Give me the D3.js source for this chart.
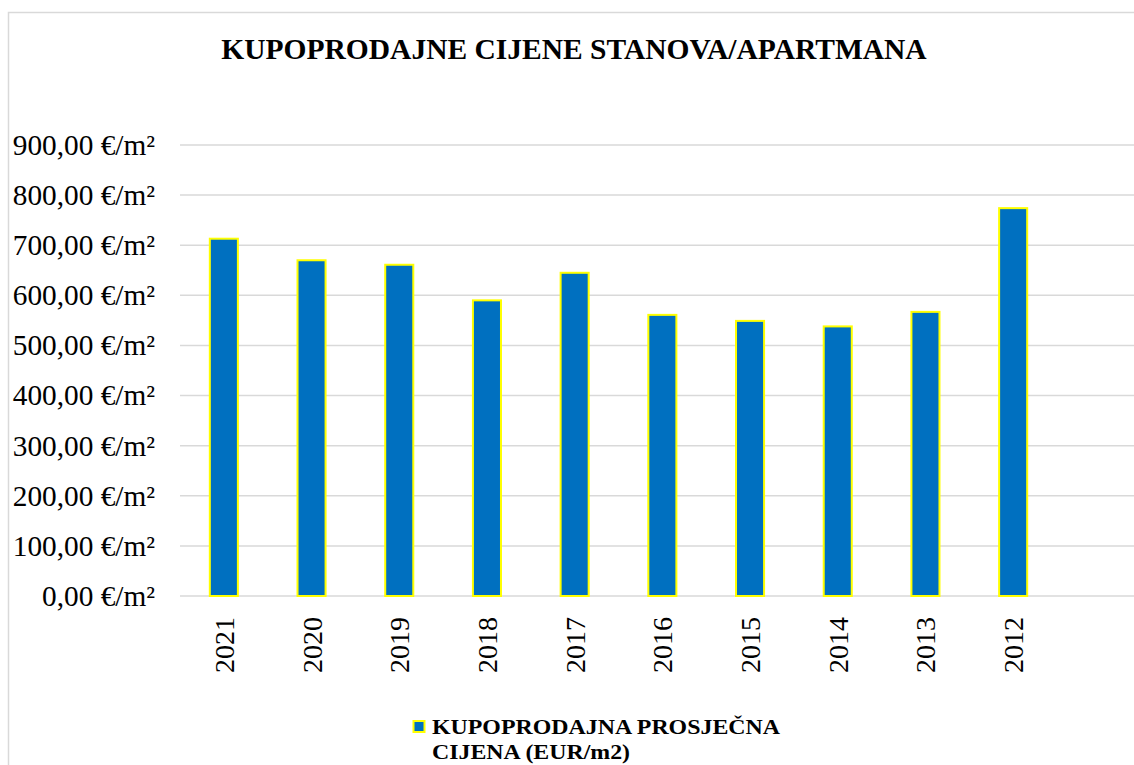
<!DOCTYPE html>
<html>
<head>
<meta charset="utf-8">
<script src="https://cdn.jsdelivr.net/npm/d3@7"></script>
<style>
  html, body { margin: 0; padding: 0; background: #fff; }
  svg { display: block; }
</style>
</head>
<body>
<svg id="chart" width="1134" height="765"></svg>
<script>
const title = "KUPOPRODAJNE CIJENE STANOVA/APARTMANA";
const categories = ["2021", "2020", "2019", "2018", "2017", "2016", "2015", "2014", "2013", "2012"];
const values = [713, 670, 661, 590, 645, 561, 549, 538, 567, 774];
const yTicks = [0, 100, 200, 300, 400, 500, 600, 700, 800, 900];
const legendLines = ["KUPOPRODAJNA PROSJEČNA", "CIJENA (EUR/m2)"];
const legendWidths = [348, 198];

const SERIF = "'Liberation Serif', 'DejaVu Serif', serif";
const svg = d3.select("#chart");
const W = 1134, H = 765;
const plot = { left: 180, right: 1057, top: 145, bottom: 596, gridRight: 1134 };

// chart border (partially visible: left and top)
svg.append("path")
  .attr("d", `M8.5,${H} L8.5,12.5 L${W},12.5`)
  .attr("fill", "none").attr("stroke", "#d9d9d9").attr("stroke-width", 1.5);

// title
svg.append("text")
  .attr("x", 574).attr("y", 59)
  .attr("text-anchor", "middle")
  .style("font-family", SERIF)
  .style("font-weight", "700").style("font-size", "29.5px")
  .text(title);

const x = d3.scaleBand().domain(categories)
  .range([plot.left, plot.right]).paddingInner(0.68).paddingOuter(0.34);
const y = d3.scaleLinear().domain([0, 900]).range([plot.bottom, plot.top]);

// gridlines
svg.append("g").selectAll("line").data(yTicks).join("line")
  .attr("x1", plot.left).attr("x2", plot.gridRight)
  .attr("y1", d => y(d)).attr("y2", d => y(d))
  .attr("stroke", "#d9d9d9").attr("stroke-width", 1.5);

// y axis labels
const fmt = v => d3.format(".2f")(v).replace(".", ",") + " €/m²";
const yAxis = d3.axisLeft(y).tickValues(yTicks).tickFormat(fmt).tickSize(0).tickPadding(25);
const gy = svg.append("g").attr("transform", `translate(${plot.left},0)`).call(yAxis);
gy.select(".domain").remove();
gy.selectAll("text").attr("fill", "#000")
  .style("font-size", "29.3px").style("font-family", SERIF);

// bars
svg.append("g").selectAll("rect").data(categories).join("rect")
  .attr("x", d => x(d))
  .attr("width", x.bandwidth())
  .attr("y", (d, i) => y(values[i]))
  .attr("height", (d, i) => y(0) - y(values[i]))
  .attr("fill", "#0070C0")
  .attr("stroke", "#FFFF00").attr("stroke-width", 2);

// x axis labels
const xAxis = d3.axisBottom(x).tickSize(0).tickPadding(0);
const gx = svg.append("g").attr("transform", `translate(0,${plot.bottom})`).call(xAxis);
gx.select(".domain").remove();
gx.selectAll("text")
  .attr("fill", "#000")
  .style("font-size", "28px").style("font-family", SERIF)
  .attr("text-anchor", "end")
  .attr("dy", null).attr("y", null)
  .attr("transform", "translate(10,21) rotate(-90)");

// legend
const lg = svg.append("g");
lg.append("rect").attr("x", 413.5).attr("y", 721).attr("width", 11).attr("height", 11)
  .attr("fill", "#0070C0").attr("stroke", "#FFFF00").attr("stroke-width", 2);
lg.selectAll("text").data(legendLines).join("text")
  .attr("x", 432).attr("y", (d, i) => 734 + i * 25)
  .attr("textLength", (d, i) => legendWidths[i])
  .attr("lengthAdjust", "spacingAndGlyphs")
  .style("font-family", SERIF)
  .style("font-weight", "700").style("font-size", "20.5px")
  .text(d => d);
</script>
</body>
</html>
